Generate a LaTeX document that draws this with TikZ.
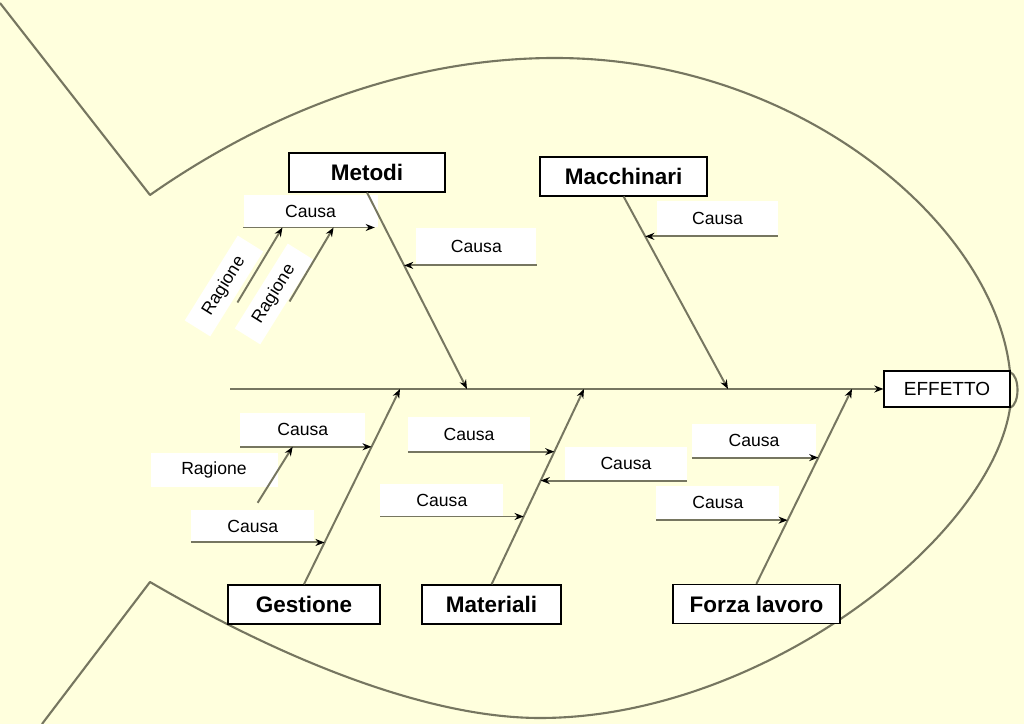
\documentclass[tikz,border=0pt]{standalone}
\usepackage{fontspec}
\setmainfont{Liberation Sans}
\usepackage{tikz}
\usetikzlibrary{arrows.meta,positioning,calc}
\definecolor{fondo}{RGB}{255,255,221}
\definecolor{linea}{RGB}{118,118,96}
\tikzset{categoria/.style={draw=black,fill=white,line width=0.9pt,minimum height=0.975cm,font=\fontsize{16}{19}\selectfont\bfseries}}
\tikzset{causa/.style={fill=white,minimum width=3.075cm,minimum height=0.85cm,font=\fontsize{12.5}{15}\selectfont}}
\tikzset{ragione/.style={causa,minimum width=2.5cm,minimum height=0.75cm}}
\tikzset{effetto/.style={draw=black,fill=white,line width=0.8pt,minimum width=3.15cm,minimum height=0.9cm,font=\fontsize{13.5}{16}\selectfont}}

\begin{document}
\begin{tikzpicture}[>={Stealth[length=6.5pt,width=5pt,black]}, osso/.style={->,draw=linea,line width=1.4pt}]
        \fill[fondo] (0,0) rectangle (25.6,18.1);
        \useasboundingbox (0,0) rectangle (25.6,18.1);
        % pesce
        \draw[linea,line width=1.5pt,line join=round] (0,18.025) -- (3.75,13.225)
            .. controls (7.0,15.5) and (10.5,16.65) .. (13.875,16.65)
            .. controls (20.0,16.65) and (24.875,12.475) .. (25.25,8.8)
            .. controls (25.5,8.7) and (25.5,8.0) .. (25.25,7.9)
            .. controls (24.75,4.6) and (19.0,0.15) .. (13.5,0.15)
            .. controls (10.5,0.15) and (6.75,1.8) .. (3.75,3.55) -- (1.05,0);
        \node[effetto] (Effetto) at (23.675,8.375) {EFFETTO};
        \node[categoria,minimum width=3.9cm] (Metodi) at (9.175,13.79) {Metodi};
        \node[categoria,minimum width=4.175cm] (Macchinari) at (15.59,13.69) {Macchinari};
        \node[categoria,minimum width=3.8cm] (Gestione) at (7.6,2.99) {Gestione};
        \node[categoria,minimum width=3.475cm] (Materiali) at (12.29,2.99) {Materiali};
        \node[categoria,minimum width=4.175cm] (Forza) at (18.91,3.0) {Forza lavoro};
        % spina
        \coordinate (testa) at (5.75,8.375);
        \coordinate (m1) at (11.675,8.375);
        \coordinate (m2) at (18.2,8.375);
        \coordinate (m3) at (10.0,8.375);
        \coordinate (m4) at (14.6,8.375);
        \coordinate (m5) at (21.3,8.375);
        \coordinate (mb1) at ($(Metodi.south)!0.371!(m1)$);
        \coordinate (mb2) at ($(Metodi.south)!0.178!(m1)$);
        \coordinate (mc1) at ($(Macchinari.south)!0.207!(m2)$);
        \coordinate (gb1) at ($(Gestione.north)!0.704!(m3)$);
        \coordinate (gb2) at ($(Gestione.north)!0.214!(m3)$);
        \coordinate (mt1) at ($(Materiali.north)!0.679!(m4)$);
        \coordinate (mt2) at ($(Materiali.north)!0.347!(m4)$);
        \coordinate (mt3) at ($(Materiali.north)!0.531!(m4)$);
        \coordinate (fz1) at ($(Forza.north)!0.648!(m5)$);
        \coordinate (fz2) at ($(Forza.north)!0.327!(m5)$);
        % cause
        \node[causa,anchor=south west,minimum width=3cm,minimum height=0.925cm] (c1) at ($(mb1)+(0.3,0)$) {Causa};
        \node[causa,anchor=south east,minimum width=3.35cm,minimum height=0.8cm] (c2) at ($(mb2)+(-0.175,0)$) {Causa};
        \node[causa,anchor=south west,minimum width=3cm,minimum height=0.875cm] (c3) at ($(mc1)+(0.3,0)$) {Causa};
        \node[causa,anchor=south east,minimum width=3.125cm] (c4) at ($(gb1)+(-0.15,0)$) {Causa};
        \node[causa,anchor=south east,minimum height=0.8cm] (c5) at ($(gb2)+(-0.25,0)$) {Causa};
        \node[causa,anchor=south east,minimum width=3.05cm] (c6) at ($(mt1)+(-0.6,0)$) {Causa};
        \node[causa,anchor=south east,minimum height=0.8cm] (c7) at ($(mt2)+(-0.5,0)$) {Causa};
        \node[causa,anchor=south west,minimum width=3.05cm,minimum height=0.825cm] (c8) at ($(mt3)+(0.6,0)$) {Causa};
        \node[causa,anchor=south east,minimum width=3.1cm,minimum height=0.825cm] (c9) at ($(fz1)+(-0.05,0)$) {Causa};
        \node[causa,anchor=south east] (c10) at ($(fz2)+(-0.2,0)$) {Causa};
        % ragioni
        \node[ragione,rotate=58] (r1) at (5.6,10.95) {Ragione};
        \node[ragione,rotate=58] (r2) at (6.85,10.75) {Ragione};
        \node[causa,minimum width=3.175cm] (r3) at (5.35,6.35) {Ragione};
        \coordinate (rg1) at ($(c2.south west)!0.277!(mb2)$);
        \coordinate (rg2) at ($(c2.south west)!0.638!(mb2)$);
        \coordinate (rg3) at ($(c4.south west)!0.4!(gb1)$);
        \coordinate (ra1) at ($(rg1)+(-1.125,-1.875)$);
        \coordinate (ra2) at ($(rg2)+(-1.1,-1.85)$);
        \coordinate (ra3) at ($(rg3)+(-0.875,-1.4)$);
        % frecce
        \draw[osso] (testa) -- (Effetto.west);
        \draw[osso] (Metodi.south) -- (m1);
        \draw[osso] (Macchinari.south) -- (m2);
        \draw[osso] (Gestione.north) -- (m3);
        \draw[osso] (Materiali.north) -- (m4);
        \draw[osso] (Forza.north) -- (m5);
        \draw[osso] (c1.south east) -- (mb1);
        \draw[osso,shorten >=0.25cm] (c2.south west) -- (mb2);
        \draw[osso] (c3.south east) -- (mc1);
        \draw[osso] (c4.south west) -- (gb1);
        \draw[osso] (c5.south west) -- (gb2);
        \draw[osso] (c6.south west) -- (mt1);
        \draw[osso] (c7.south west) -- (mt2);
        \draw[osso] (c8.south east) -- (mt3);
        \draw[osso] (c9.south west) -- (fz1);
        \draw[osso] (c10.south west) -- (fz2);
        \draw[osso] (ra1) -- (rg1);
        \draw[osso] (ra2) -- (rg2);
        \draw[osso] (ra3) -- (rg3);
\end{tikzpicture}
\end{document}
